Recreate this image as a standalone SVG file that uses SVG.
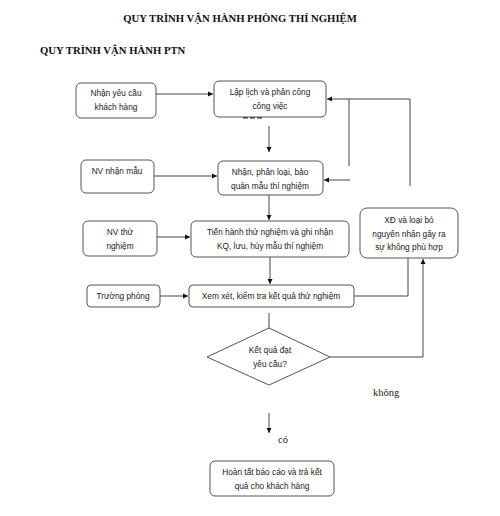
<svg xmlns="http://www.w3.org/2000/svg" width="500" height="516" viewBox="0 0 500 516">
<style>
.box{fill:#fff;stroke:#555;stroke-width:1}
.t{font-family:"Liberation Sans",Arial,sans-serif;font-size:8.3px;fill:#222;text-anchor:middle}
.h{font-family:"Liberation Serif","Times New Roman",serif;font-weight:bold;font-size:10.7px;fill:#111}
.s{font-family:"Liberation Serif","Times New Roman",serif;font-size:10.5px;fill:#222}
.c{fill:none;stroke:#444;stroke-width:1}
</style>
<defs>
<marker id="a" markerWidth="6" markerHeight="6" refX="5" refY="3" orient="auto" markerUnits="userSpaceOnUse">
<path d="M0,0.5 L5,3 L0,5.5 Z" fill="#111"/>
</marker>
</defs>
<rect width="500" height="516" fill="#fff"/>
<text class="h" x="240" y="22" text-anchor="middle">QUY TRÌNH VẬN HÀNH PHÒNG THÍ NGHIỆM</text>
<text class="h" x="40" y="54">QUY TRÌNH VẬN HÀNH PTN</text>

<g id="connectors">
<line class="c" x1="156" y1="94" x2="213" y2="94" marker-end="url(#a)"/>
<line class="c" x1="269" y1="126" x2="269" y2="152" marker-end="url(#a)"/>
<line class="c" x1="154" y1="176" x2="217" y2="176" marker-end="url(#a)"/>
<polyline class="c" points="349,166 349,99 327,99" marker-end="url(#a)"/>
<line class="c" x1="410" y1="99" x2="349" y2="99"/>
<line class="c" x1="410" y1="99" x2="410" y2="186"/>
<line class="c" x1="350" y1="180" x2="324" y2="180" marker-end="url(#a)"/>
<line class="c" x1="269" y1="195" x2="269" y2="220" marker-end="url(#a)"/>
<line class="c" x1="157" y1="237" x2="190" y2="237" marker-end="url(#a)"/>
<line class="c" x1="270" y1="257" x2="270" y2="284" marker-end="url(#a)"/>
<line class="c" x1="160" y1="296" x2="188" y2="296" marker-end="url(#a)"/>
<polyline class="c" points="354,296 408,296 408,258"/>
<line class="c" x1="269" y1="313" x2="269" y2="337" marker-end="url(#a)"/>
<polyline class="c" points="330,357 423,357 423,259" marker-end="url(#a)"/>
<line class="c" x1="269" y1="413" x2="269" y2="433" marker-end="url(#a)"/>
<line x1="243" y1="117.5" x2="264" y2="117.5" stroke="#333" stroke-width="2" stroke-dasharray="5,2"/>
</g>

<g id="n1"><rect class="box" x="76" y="83" width="80" height="35" rx="5"/>
<text class="t" x="116" y="96">Nhận yêu cầu</text><text class="t" x="116" y="110">khách hàng</text></g>
<g id="n2"><rect class="box" x="214" y="81" width="112" height="36" rx="5"/>
<text class="t" x="270" y="95">Lập lịch và phân công</text><text class="t" x="270" y="109">công việc</text></g>
<g id="n3"><rect class="box" x="81" y="160" width="73" height="33" rx="5"/>
<text class="t" x="117" y="174">NV nhận mẫu</text></g>
<g id="n4"><rect class="box" x="218" y="161" width="105" height="34" rx="5"/>
<text class="t" x="270" y="175">Nhận, phân loại, bảo</text><text class="t" x="270" y="189">quản mẫu thí nghiệm</text></g>
<g id="n5"><rect class="box" x="83" y="221" width="74" height="35" rx="5"/>
<text class="t" x="120" y="235">NV thử</text><text class="t" x="120" y="249">nghiệm</text></g>
<g id="n6"><rect class="box" x="191" y="221" width="158" height="36" rx="5"/>
<text class="t" x="270" y="235">Tiến hành thử nghiệm và ghi nhận</text><text class="t" x="270" y="249">KQ, lưu, hủy mẫu thí nghiệm</text></g>
<g id="n7"><rect class="box" x="360" y="208" width="98" height="50" rx="7"/>
<text class="t" x="409" y="223">XĐ và loại bỏ</text><text class="t" x="409" y="237">nguyên nhân gây ra</text><text class="t" x="409" y="250">sự không phù hợp</text></g>
<g id="n8"><rect class="box" x="87" y="285" width="73" height="22" rx="4"/>
<text class="t" x="123" y="299">Trường phòng</text></g>
<g id="n9"><rect class="box" x="189" y="285" width="165" height="22" rx="4"/>
<text class="t" x="271" y="299">Xem xét, kiểm tra kết quả thử nghiệm</text></g>
<g id="n10"><polygon class="box" points="269,328 330,357 269,385 207,357"/>
<text class="t" x="270" y="353">Kết quả đạt</text><text class="t" x="270" y="367">yêu cầu?</text></g>
<g id="n11"><rect class="box" x="210" y="461" width="124" height="35" rx="5"/>
<text class="t" x="272" y="475">Hoàn tất báo cáo và trả kết</text><text class="t" x="272" y="489">quả cho khách hàng</text></g>
<text class="s" x="373" y="396">không</text>
<text class="s" x="278" y="443">có</text>
</svg>
